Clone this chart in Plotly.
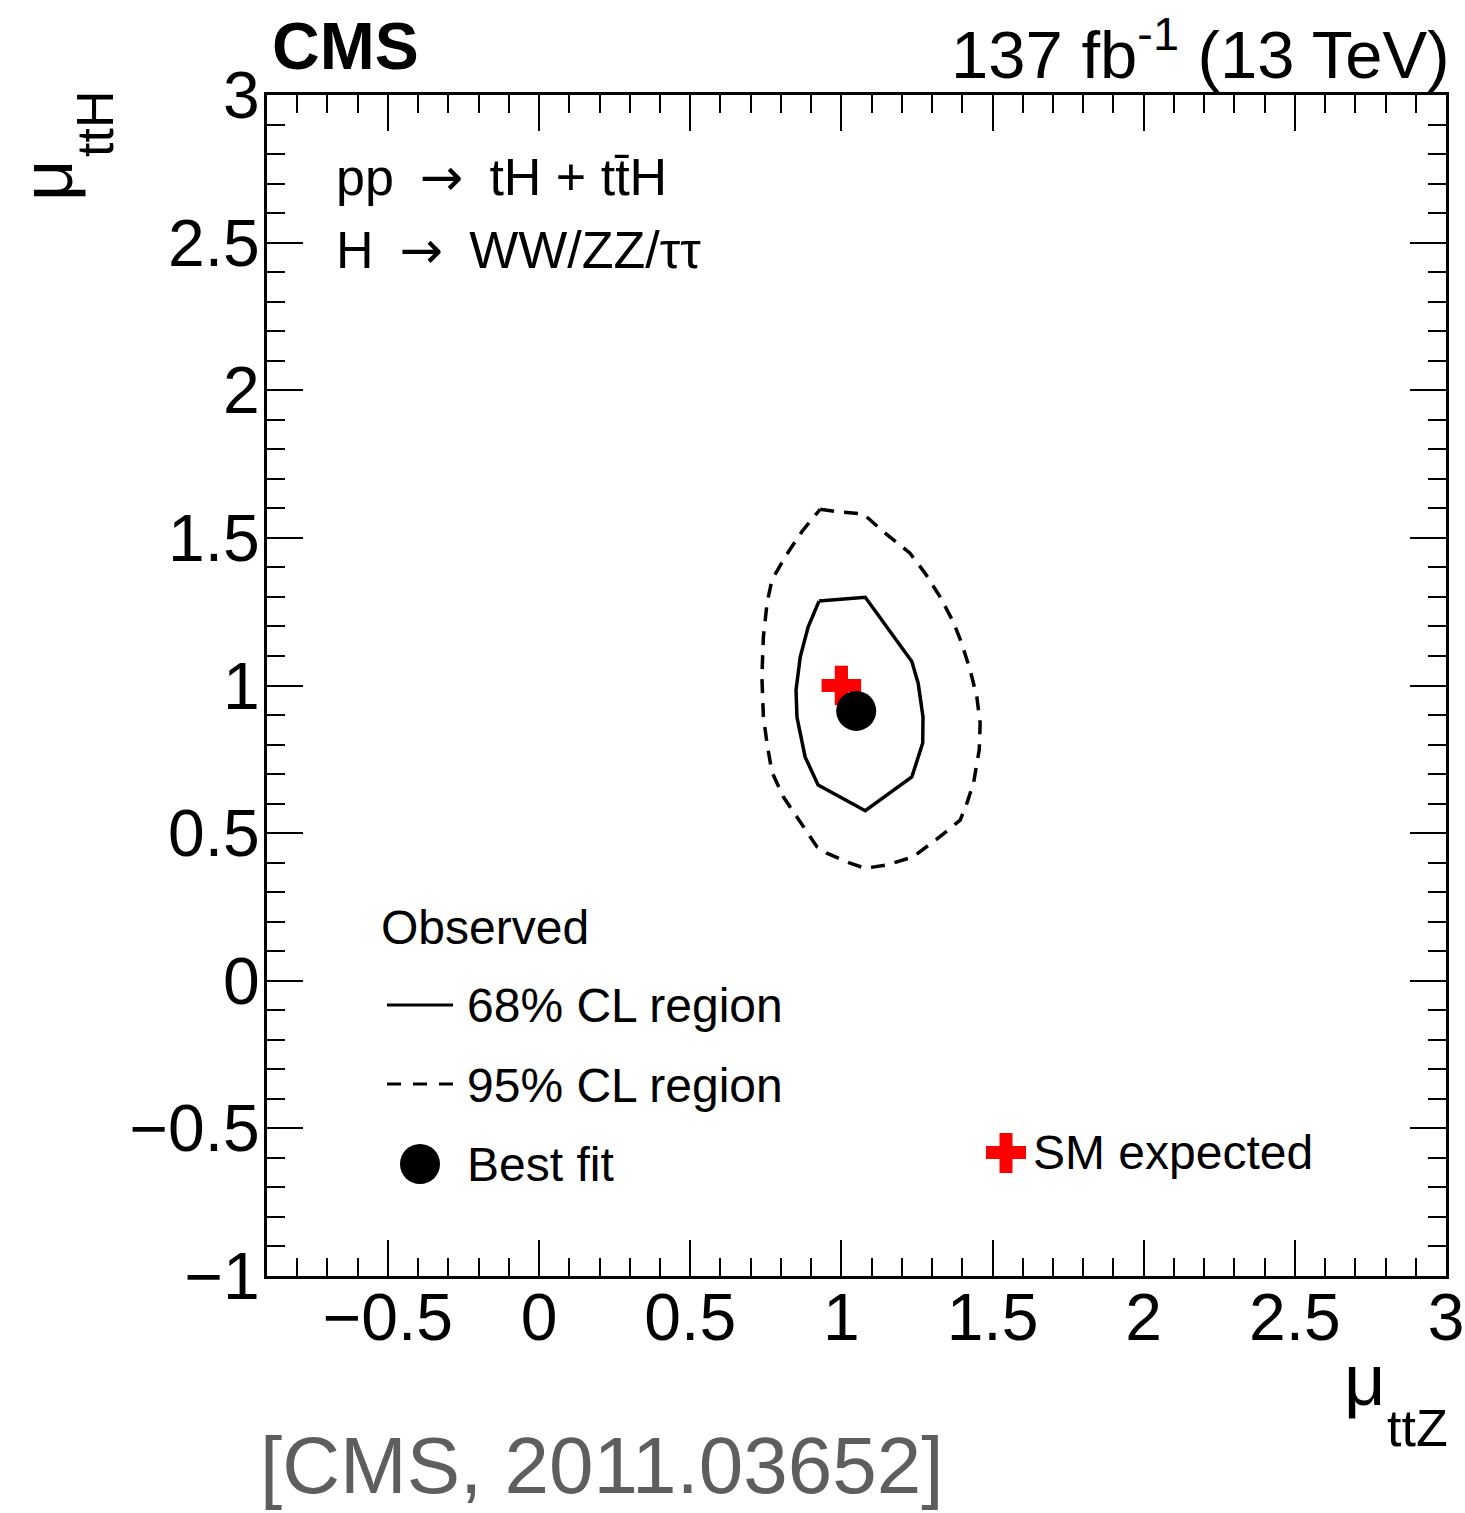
import plotly.graph_objects as go

# 68% CL observed contour (mu_ttZ, mu_ttH)
cl68_x = [0.926, 1.079, 1.233, 1.254, 1.270, 1.269, 1.233, 1.079, 0.923, 0.880,
          0.853, 0.850, 0.864, 0.890, 0.926]
cl68_y = [1.286, 1.299, 1.081, 1.008, 0.893, 0.805, 0.690, 0.576, 0.663, 0.758,
          0.893, 0.985, 1.097, 1.198, 1.286]

# 95% CL observed contour
cl95_x = [0.930, 0.985, 1.073, 1.139, 1.227, 1.277, 1.326, 1.370, 1.398, 1.426,
          1.448, 1.459, 1.456, 1.437, 1.415, 1.393, 1.326, 1.238, 1.150, 1.078,
          1.029, 0.952, 0.919, 0.875, 0.808, 0.770, 0.754, 0.742, 0.737, 0.742,
          0.754, 0.770, 0.814, 0.869, 0.930]
cl95_y = [1.597, 1.589, 1.581, 1.521, 1.448, 1.380, 1.301, 1.216, 1.143, 1.052,
          0.962, 0.872, 0.782, 0.669, 0.601, 0.544, 0.488, 0.420, 0.392, 0.381,
          0.398, 0.432, 0.454, 0.522, 0.623, 0.708, 0.804, 0.894, 1.030, 1.165,
          1.278, 1.357, 1.436, 1.521, 1.597]

best_fit = (1.049, 0.914)
sm_point = (1.0, 1.0)

x_range = [-0.9, 3.0]
y_range = [-1.0, 3.0]

legend_labels = ["Observed", "68% CL region", "95% CL region", "Best fit"]
sm_label = "SM expected"

W, H = 1465, 1513
L, R, T, B = 267, 19, 95, 237
PW, PH = W - L - R, H - T - B

FONT = "Liberation Sans, Arial, Helvetica, sans-serif"
ARROW = '\u2002<span style="font-family:DejaVu Sans">\u2192</span>\u2002'


def px(xp):
    return (xp - L) / PW


def py(yp):
    return (H - B - yp) / PH


fig = go.Figure()

fig.add_trace(go.Scatter(x=cl95_x, y=cl95_y, mode="lines",
                         line=dict(color="black", width=3.5, dash="14px,10px"),
                         showlegend=False, hoverinfo="skip"))
fig.add_trace(go.Scatter(x=cl68_x, y=cl68_y, mode="lines",
                         line=dict(color="black", width=3.5),
                         showlegend=False, hoverinfo="skip"))
fig.add_trace(go.Scatter(x=[sm_point[0]], y=[sm_point[1]], mode="markers",
                         marker=dict(symbol="cross", size=33, color="red",
                                     line=dict(width=0)),
                         showlegend=False, hoverinfo="skip"))
fig.add_trace(go.Scatter(x=[best_fit[0]], y=[best_fit[1]], mode="markers",
                         marker=dict(symbol="circle", size=40, color="black",
                                     line=dict(width=0)),
                         showlegend=False, hoverinfo="skip"))

axis_common = dict(
    showgrid=False, zeroline=False, automargin=False,
    showline=True, linecolor="black", linewidth=3, mirror="ticks",
    ticks="inside", ticklen=36, tickwidth=2, tickcolor="black",
    tickfont=dict(family=FONT, size=66, color="black"),
    minor=dict(ticks="inside", ticklen=18, tickwidth=2, tickcolor="black",
               dtick=0.1, tick0=0, showgrid=False),
    dtick=0.5, tick0=0,
)

fig.update_xaxes(range=x_range, ticklabelstandoff=-18, **axis_common)
fig.update_yaxes(range=y_range, ticklabelstandoff=-9, **axis_common)

ann = []


def text(s, x, y, size, xanchor="left", yanchor="middle", color="black",
         angle=0, bold=False):
    ann.append(dict(text=f"<b>{s}</b>" if bold else s, x=px(x), y=py(y),
                    xref="paper", yref="paper", showarrow=False,
                    xanchor=xanchor, yanchor=yanchor, textangle=angle,
                    font=dict(family=FONT, size=size, color=color)))


text("CMS", 270, 46, 66, bold=True)
text("137 fb<sup>-1</sup> (13 TeV)", 1452, 50, 67, xanchor="right")
text(f"pp{ARROW}tH + tt\u0304H", 334, 177, 52)
text(f"H{ARROW}WW/ZZ/\u03c4\u03c4", 334, 250, 52)

text(legend_labels[0], 379, 927, 48)
text(legend_labels[1], 465, 1005, 48)
text(legend_labels[2], 465, 1085, 48)
text(legend_labels[3], 465, 1164, 48)
text(sm_label, 1031, 1152, 48)

# axis titles
text("\u03bc", 1364, 1380, 72, xanchor="center")
text("ttZ", 1417, 1428, 52, xanchor="center")
text("\u03bc", 47, 181, 72, xanchor="center", angle=-90)
text("ttH", 95, 124, 52, xanchor="center", angle=-90)

text("[CMS, 2011.03652]", 258, 1512, 80, yanchor="bottom", color="#5e5e5e")

shapes = [
    dict(type="line", xref="paper", yref="paper", x0=px(387), x1=px(453),
         y0=py(1005), y1=py(1005), line=dict(color="black", width=3)),
    dict(type="line", xref="paper", yref="paper", x0=px(387), x1=px(453),
         y0=py(1084), y1=py(1084), line=dict(color="black", width=3, dash="14px,12px")),
    dict(type="circle", xref="paper", yref="paper", x0=px(400), x1=px(440),
         y0=py(1184), y1=py(1144), fillcolor="black", line=dict(width=0)),
    dict(type="rect", xref="paper", yref="paper", x0=px(986), x1=px(1026),
         y0=py(1159), y1=py(1146), fillcolor="red", line=dict(width=0)),
    dict(type="rect", xref="paper", yref="paper", x0=px(999.5), x1=px(1012.5),
         y0=py(1173), y1=py(1133), fillcolor="red", line=dict(width=0)),
]

fig.update_layout(
    width=W, height=H, autosize=False,
    margin=dict(l=L, r=R, t=T, b=B),
    paper_bgcolor="white", plot_bgcolor="white",
    showlegend=False,
    annotations=ann, shapes=shapes,
)

# keep the page exactly figure-sized, without scrollbars or resizing
page_js = (
    "document.documentElement.style.overflow='hidden';"
    "document.body.style.overflow='hidden';"
    "document.body.style.margin='0';"
)

fig.write_html("out.html", config={"responsive": False}, post_script=page_js)
